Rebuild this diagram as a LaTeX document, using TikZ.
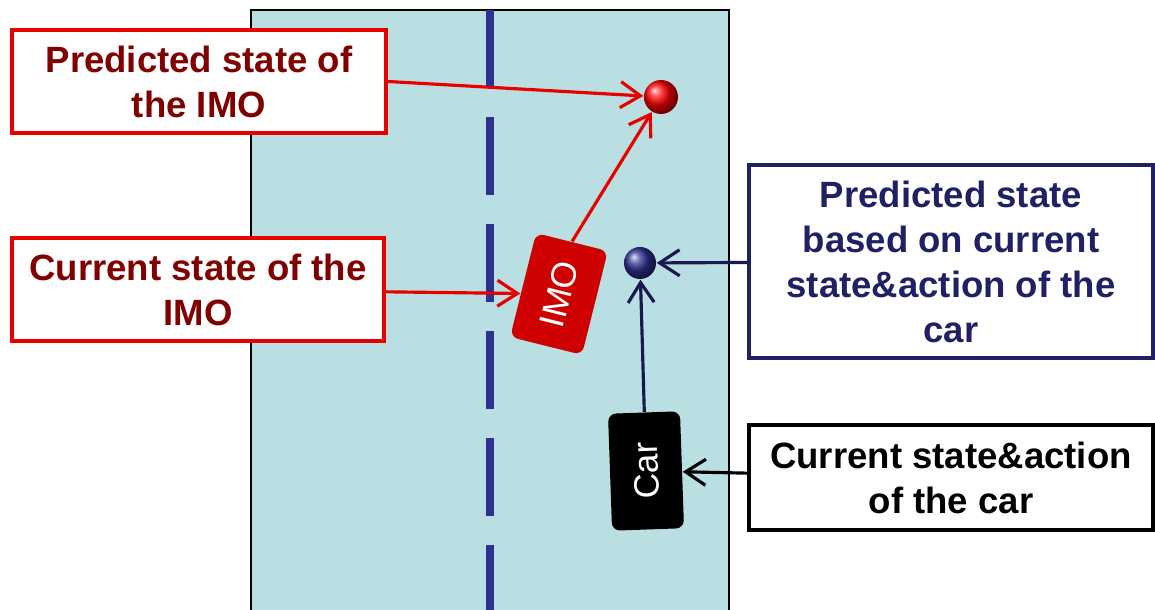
\documentclass[tikz,border=0pt]{standalone}
\usepackage{fontspec}
\setmainfont{Liberation Sans}
\usetikzlibrary{arrows.meta,shapes.geometric}

\definecolor{roadfill}{RGB}{185,223,226}
\definecolor{lanenavy}{RGB}{46,49,146}
\definecolor{imored}{RGB}{230,0,0}
\definecolor{imotext}{RGB}{128,0,0}
\definecolor{carnavy}{RGB}{32,32,100}
\definecolor{arrownavy}{RGB}{25,25,80}

\begin{document}
\begin{tikzpicture}[
    labelbox/.style={draw, rectangle, fill=white, line width=1pt, align=center,
                     font=\bfseries\fontsize{10.4}{12.8}\selectfont},
    imobox/.style={labelbox, draw=imored, text=imotext},
    navybox/.style={labelbox, draw=carnavy, text=carnavy},
    blackbox/.style={labelbox, draw=black, text=black},
    vehicle/.style={rectangle, rounded corners=0.08cm, text=white,
                    font=\fontsize{10}{12}\selectfont},
    statedot/.style={circle, inner sep=0pt, minimum size=#1},
    redarrow/.style={-{Straight Barb[length=2mm,width=2.6mm]}, line width=0.9pt, draw=imored},
    navyarrow/.style={-{Straight Barb[length=2mm,width=2.6mm]}, line width=0.9pt, draw=arrownavy},
    blackarrow/.style={-{Straight Barb[length=2mm,width=2.6mm]}, line width=0.9pt, draw=black}
]
\useasboundingbox (0,0) rectangle (11.55,6.10);

% Road and lane marking
\draw[fill=roadfill, thin] (2.51,-0.05) rectangle (7.29,6.00);
\draw[lanenavy, line width=0.08cm, dash pattern=on 0.78cm off 0.29cm] (4.90,6.00) -- (4.90,0);

% Vehicles
\node[vehicle, fill=imored!90!black, minimum width=1.07cm, minimum height=0.74cm,
      rotate=76] (imo) at (5.59,3.16) {IMO};
\node[vehicle, fill=black, minimum width=1.17cm, minimum height=0.72cm,
      rotate=92] (car) at (6.46,1.39) {Car};

% Predicted states
\node[statedot=0.34cm, shading=ball, ball color=red] (reddot) at (6.61,5.13) {};
\node[statedot=0.32cm, shading=ball, ball color=lanenavy] (bluedot) at (6.40,3.47) {};

% Labels
\node[imobox, minimum width=3.74cm, minimum height=1.03cm] (predimo) at (1.99,5.285)
    {Predicted state of\\the IMO};
\node[imobox, minimum width=3.72cm, minimum height=1.03cm] (curimo) at (1.98,3.205)
    {Current state of the\\IMO};
\node[navybox, minimum width=4.04cm, minimum height=1.93cm] (predcar) at (9.51,3.485)
    {Predicted state\\based on current\\state\&action of the\\car};
\node[blackbox, minimum width=4.04cm, minimum height=1.05cm] (curcar) at (9.51,1.325)
    {Current state\&action\\of the car};

% Connectors
\draw[redarrow] (predimo.east) -- (reddot);
\draw[redarrow] (imo.east) -- (reddot);
\draw[redarrow] (curimo) -- (imo);
\draw[navyarrow] (predcar) -- (bluedot);
\draw[navyarrow] (car) -- (bluedot);
\draw[blackarrow] (curcar) -- (car);

\end{tikzpicture}
\end{document}
